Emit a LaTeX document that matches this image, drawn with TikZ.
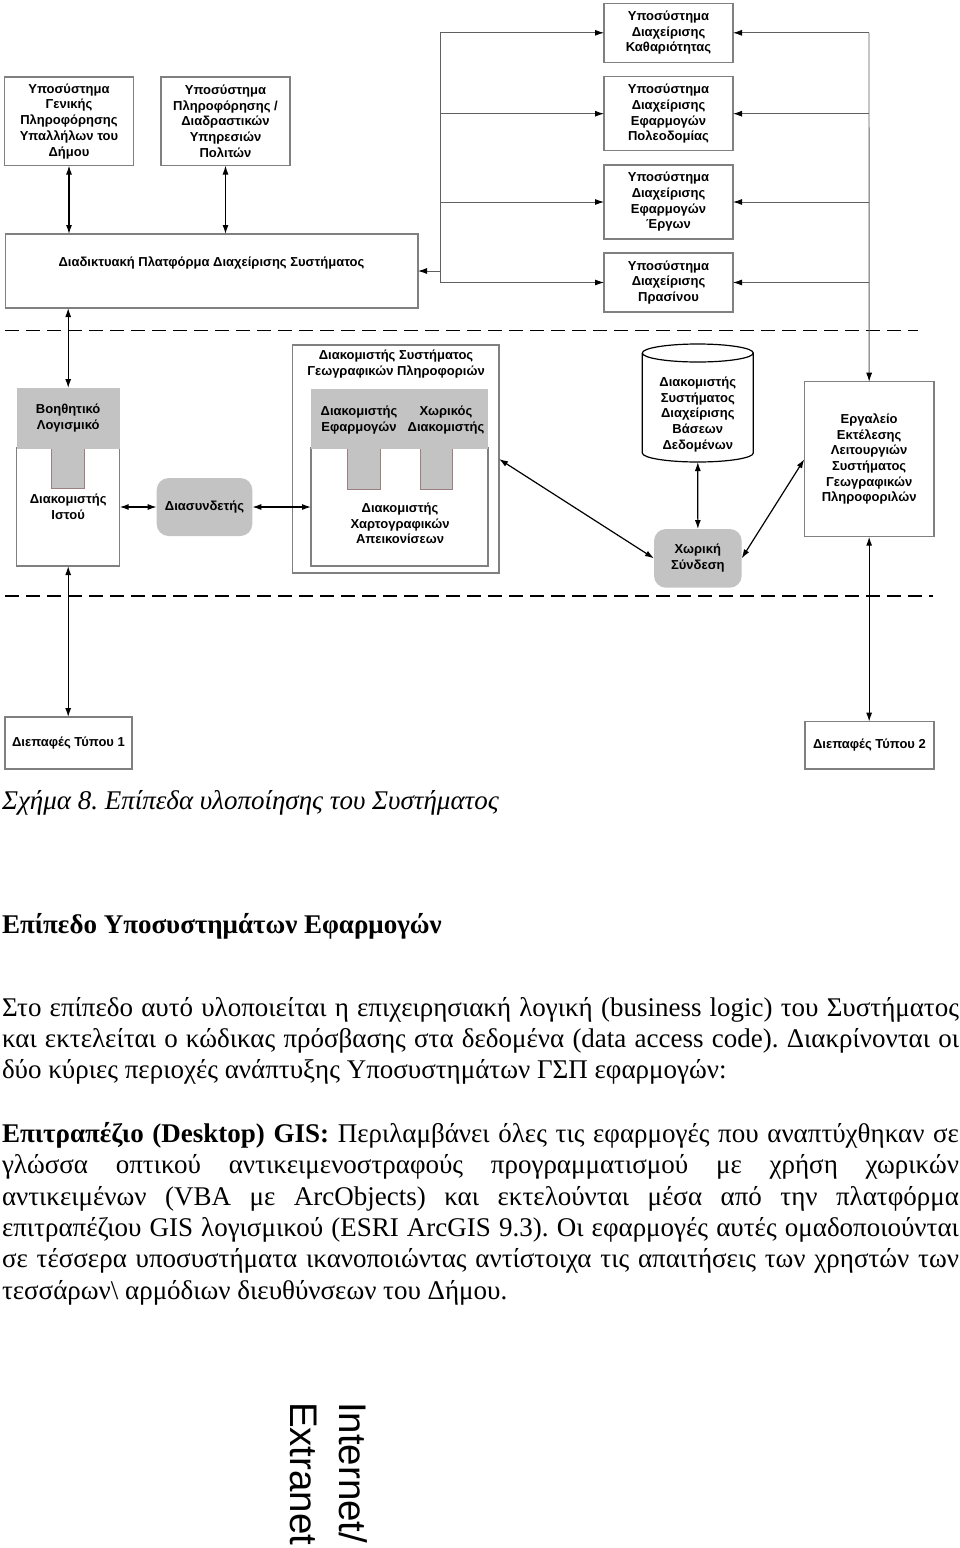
\documentclass[tikz,border=0pt]{standalone}
\usepackage{fontspec}
\setmainfont{Liberation Serif}
\newfontfamily\arialf{Liberation Sans}
\usetikzlibrary{arrows.meta}
\definecolor{bordergray}{HTML}{808080}
\definecolor{fillgray}{HTML}{C3C3C3}
\definecolor{tabedge}{HTML}{9C8080}
\definecolor{linegray}{HTML}{606060}
\newcommand\jl[1]{\makebox[957pt][s]{#1}}
\frenchspacing
\begin{document}
\begin{tikzpicture}[x=1pt,y=-1pt,
  every node/.style={inner sep=0pt, outer sep=0pt},
  dfont/.style={font=\arialf\bfseries\fontsize{13}{15.7}\selectfont, align=center},
  wbox/.style={draw=bordergray, line width=1.2pt, fill=white, dfont, anchor=north west},
  gblock/.style={fill=fillgray, draw=none, dfont, anchor=north west},
  gtab/.style={fill=fillgray, draw=tabedge, line width=0.8pt, anchor=north west},
  rbox/.style={fill=fillgray, draw=none, rounded corners=12pt, dfont, anchor=north west},
  arr/.style={-{Latex[length=9pt,width=6pt,color=black]}},
  darr/.style={{Latex[length=9pt,width=6pt]}-{Latex[length=9pt,width=6pt]}},
  bl/.style={line width=1.2pt, black},
  gl/.style={line width=0.9pt, linegray},
  dashline/.style={line width=1.5pt, black, dash pattern=on 14pt off 7pt},
  bodyf/.style={font=\fontsize{27}{31}\selectfont, anchor=base west},
  vfont/.style={font=\arialf\fontsize{38.5}{40}\selectfont, rotate=-90, anchor=base west}
]
\fill[white] (0,0) rectangle (960,1548);
\useasboundingbox (0,0) rectangle (960,1548);

% top left boxes
\node[wbox, minimum width=129pt, minimum height=88.5pt] (gen) at (4.5,77) {Υποσύστημα\\Γενικής\\Πληροφόρησης\\Υπαλλήλων του\\Δήμου};
\node[wbox, minimum width=129pt, minimum height=88.5pt] (pol) at (161,77) {Υποσύστημα\\Πληροφόρησης /\\Διαδραστικών\\Υπηρεσιών\\Πολιτών};
\node[wbox, minimum width=412.5pt, minimum height=74pt] (plat) at (5.5,234) {};
\node[dfont] (platlbl) at (211.5,263) {Διαδικτυακή Πλατφόρμα Διαχείρισης Συστήματος};

% top right boxes
\node[wbox, minimum width=129pt, minimum height=59pt] (kath) at (604,3.3) {Υποσύστημα\\Διαχείρισης\\Καθαριότητας};
\node[wbox, minimum width=129pt, minimum height=74pt] (poleo) at (604,76.7) {Υποσύστημα\\Διαχείρισης\\Εφαρμογών\\Πολεοδομίας};
\node[wbox, minimum width=129pt, minimum height=74pt] (ergwn) at (604,165) {Υποσύστημα\\Διαχείρισης\\Εφαρμογών\\Έργων};
\node[wbox, minimum width=129pt, minimum height=59pt] (pras) at (604,253) {Υποσύστημα\\Διαχείρισης\\Πρασίνου};

% dashed separators
\coordinate (d1a) at (5,330.7);
\coordinate (d1b) at (918,330.7);
\coordinate (d2a) at (5,596);
\coordinate (d2b) at (933,596);
\draw[dashline] (d1a) -- (d1b);
\draw[dashline] (d2a) -- (d2b);

% web server
\node[wbox, minimum width=103pt, minimum height=118pt] (istou) at (16.7,448) {Διακομιστής\\Ιστού};
\node[gtab, minimum width=32.6pt, minimum height=48pt] (tab0) at (51.7,440) {};
\node[gblock, minimum width=103pt, minimum height=60.5pt] (boith) at (16.7,388) {Βοηθητικό\\Λογισμικό};

% connector
\node[rbox, minimum width=95.6pt, minimum height=58pt] (dias) at (156.7,478) {Διασυνδετής};

% GIS server
\node[wbox, minimum width=206.3pt, minimum height=228pt] (gis) at (292.7,345) {};
\node[dfont] (gislbl) at (396,364) {Διακομιστής Συστήματος\\Γεωγραφικών Πληροφοριών};
\node[wbox, minimum width=177pt, minimum height=118pt] (xart) at (311,448) {};
\node[gtab, minimum width=33pt, minimum height=49pt] (tab1) at (347.7,440) {};
\node[gtab, minimum width=32.7pt, minimum height=49pt] (tab2) at (420,440) {};
\node[gblock, minimum width=177pt, minimum height=59.5pt] (gisblk) at (311,389) {};
\node[dfont] (appsrv) at (359,420) {Διακομιστής\\Εφαρμογών};
\node[dfont] (spsrv) at (446,420) {Χωρικός\\Διακομιστής};
\node[dfont] (xartlbl) at (400,523.5) {Διακομιστής\\Χαρτογραφικών\\Απεικονίσεων};

% database cylinder
\node[minimum width=111pt, minimum height=118pt] (db) at (697.8,403) {};
\draw[line width=1.2pt, black, fill=white] ([yshift=-9pt]db.north west) -- ([yshift=9pt]db.south west)
  arc[start angle=180, end angle=360, x radius=55.5pt, y radius=9pt]
  -- ([yshift=-9pt]db.north east)
  arc[start angle=0, end angle=180, x radius=55.5pt, y radius=9pt] -- cycle;
\draw[line width=1.2pt, black] ([yshift=-9pt]db.north west) arc[start angle=180, end angle=360, x radius=55.5pt, y radius=9pt];
\node[dfont] (dblbl) at (697.8,414.5) {Διακομιστής\\Συστήματος\\Διαχείρισης\\Βάσεων\\Δεδομένων};

\node[rbox, minimum width=87.7pt, minimum height=58.7pt] (xwr) at (654,529) {Χωρική\\Σύνδεση};
\node[wbox, minimum width=129.7pt, minimum height=155pt] (erga) at (804.3,381.7) {Εργαλείο\\Εκτέλεσης\\Λειτουργιών\\Συστήματος\\Γεωγραφικών\\Πληροφοριλών};

% interfaces
\node[wbox, minimum width=127pt, minimum height=52pt] (dep1) at (5,717) {Διεπαφές Τύπου 1};
\node[wbox, minimum width=129pt, minimum height=47.3pt] (dep2) at (805,721.7) {Διεπαφές Τύπου 2};

% left bus
\coordinate (lbT) at (440,32.8);
\coordinate (lbB) at (440,282.5);
\draw[gl] (lbT) -- (lbB);
\draw[gl,arr] (lbT) -- (kath.west);
\draw[gl,arr] (lbT |- poleo.west) -- (poleo.west);
\draw[gl,arr] (lbT |- ergwn.west) -- (ergwn.west);
\draw[gl,arr] (lbT |- pras.west) -- (pras.west);
\draw[gl,arr] (lbT |- plat.east) -- (plat.east);

% right bus
\coordinate (rbT) at (869,32.8);
\draw[gl,arr] (rbT) -- (erga.north);
\draw[gl,arr] (rbT |- kath.east) -- (kath.east);
\draw[gl,arr] (rbT |- poleo.east) -- (poleo.east);
\draw[gl,arr] (rbT |- ergwn.east) -- (ergwn.east);
\draw[gl,arr] (rbT |- pras.east) -- (pras.east);

% black double arrows
\draw[bl,darr] (gen.south) -- (gen.south |- plat.north);
\draw[bl,darr] (pol.south) -- (pol.south |- plat.north);
\draw[bl,darr] (boith.north |- plat.south) -- (boith.north);
\draw[bl,darr] (istou.south) -- (istou.south |- dep1.north);
\draw[bl,darr] (istou.east) -- (dias.west);
\draw[bl,darr] (dias.east) -- (xart.west);
\draw[bl,darr] (db.south) -- (xwr.north);
\draw[bl,darr] (gis.east) -- (xwr.west);
\draw[bl,darr] (xwr.east) -- (erga.west);
\draw[bl,darr] (erga.south) -- (erga.south |- dep2.north);

% caption and text
\node[font=\itshape\fontsize{27}{31}\selectfont, anchor=base west] (cap) at (2,809) {Σχήμα 8. Επίπεδα υλοποίησης του Συστήματος};
\node[font=\bfseries\fontsize{27}{31}\selectfont, anchor=base west] (head) at (2,933) {Επίπεδο Υποσυστημάτων Εφαρμογών};
\node[bodyf] (p1) at (2,1016) {\jl{Στο επίπεδο αυτό υλοποιείται η επιχειρησιακή λογική (business logic) του Συστήματος}};
\node[bodyf] (p2) at (2,1047) {\jl{και εκτελείται ο κώδικας πρόσβασης στα δεδομένα (data access code). Διακρίνονται οι}};
\node[bodyf] (p3) at (2,1078) {δύο κύριες περιοχές ανάπτυξης Υποσυστημάτων ΓΣΠ εφαρμογών:};
\node[bodyf] (p4) at (2,1142) {\jl{\textbf{Επιτραπέζιο (Desktop) GIS:} Περιλαμβάνει όλες τις εφαρμογές που αναπτύχθηκαν σε}};
\node[bodyf] (p5) at (2,1173) {\jl{γλώσσα οπτικού αντικειμενοστραφούς προγραμματισμού με χρήση χωρικών}};
\node[bodyf] (p6) at (2,1205) {\jl{αντικειμένων (VBA με ArcObjects) και εκτελούνται μέσα από την πλατφόρμα}};
\node[bodyf] (p7) at (2,1236) {\jl{επιτραπέζιου GIS λογισμικού (ESRI ArcGIS 9.3). Οι εφαρμογές αυτές ομαδοποιούνται}};
\node[bodyf] (p8) at (2,1267) {\jl{σε τέσσερα υποσυστήματα ικανοποιώντας αντίστοιχα τις απαιτήσεις των χρηστών των}};
\node[bodyf] (p9) at (2,1299) {τεσσάρων\textbackslash{} αρμόδιων διευθύνσεων του Δήμου.};

% rotated labels
\node[vfont] (inet) at (339,1402) {Internet/};
\node[vfont] (extr) at (290,1402) {Extranet};
\end{tikzpicture}
\end{document}
